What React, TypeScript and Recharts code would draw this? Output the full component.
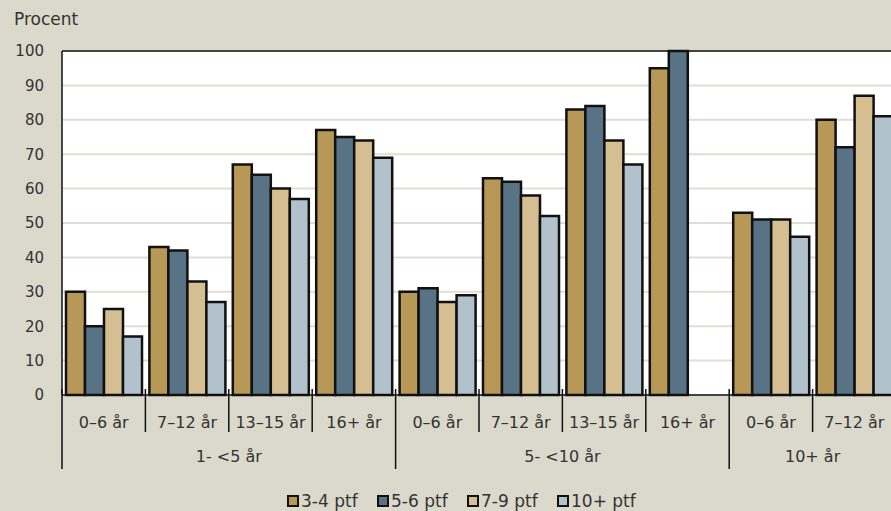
import { BarChart, Bar, XAxis, YAxis, CartesianGrid, ReferenceLine } from "recharts";

const subLabels = [
  "0–6 år", "7–12 år", "13–15 år", "16+ år",
  "0–6 år", "7–12 år", "13–15 år", "16+ år",
  "0–6 år", "7–12 år",
];
const groupLabels = [
  "1- <5 år", "1- <5 år", "1- <5 år", "1- <5 år",
  "5- <10 år", "5- <10 år", "5- <10 år", "5- <10 år",
  "10+ år", "10+ år",
];
const ptf34 = [30, 43, 67, 77, 30, 63, 83, 95, 53, 80];
const ptf56 = [20, 42, 64, 75, 31, 62, 84, 100, 51, 72];
const ptf79 = [25, 33, 60, 74, 27, 58, 74, null, 51, 87];
const ptf10 = [17, 27, 57, 69, 29, 52, 67, null, 46, 81];
const yTicks = [0, 10, 20, 30, 40, 50, 60, 70, 80, 90, 100];

const series = [
  { key: "p34", name: "3-4 ptf", color: "#b79856" },
  { key: "p56", name: "5-6 ptf", color: "#587386" },
  { key: "p79", name: "7-9 ptf", color: "#d5bf92" },
  { key: "p10", name: "10+ ptf", color: "#b2c2cc" },
];

const data = subLabels.map((sub, i) => ({
  sub,
  group: groupLabels[i],
  p34: ptf34[i],
  p56: ptf56[i],
  p79: ptf79[i],
  p10: ptf10[i],
}));

const FONT = "'DejaVu Sans', sans-serif";
const TEXT = "#333333";
const CHART_W = 900;
const Y_W = 62;
const MARGIN = { top: 51, right: 4, bottom: 36, left: 0 };
const band = (CHART_W - Y_W - MARGIN.left - MARGIN.right) / data.length;

interface TickProps {
  x?: number;
  y?: number;
  payload?: { value: string; index: number };
}

function TwoLevelTick({ x, y, payload }: TickProps) {
  if (x == null || y == null || !payload) return null;
  const i = payload.index;
  const d = data[i];
  const left = x - band / 2;
  const groupStart = i === 0 || data[i - 1].group !== d.group;
  let last = i;
  while (last + 1 < data.length && data[last + 1].group === d.group) last++;
  const groupCenter = x + ((last - i) * band) / 2;
  return (
    <g>
      <line x1={left} x2={left} y1={y - 6} y2={y + (groupStart ? 74 : 37)} stroke="#111" strokeWidth={1.5} />
      {i === data.length - 1 && (
        <line x1={x + band / 2} x2={x + band / 2} y1={y - 6} y2={y + 74} stroke="#111" strokeWidth={1.5} />
      )}
      <text x={x} y={y + 27} textAnchor="middle" dominantBaseline="central" fill={TEXT} fontSize={16} fontFamily={FONT}>
        {d.sub}
      </text>
      {groupStart && (
        <text x={groupCenter} y={y + 61} textAnchor="middle" dominantBaseline="central" fill={TEXT} fontSize={16} fontFamily={FONT}>
          {d.group}
        </text>
      )}
    </g>
  );
}

export default function App() {
  return (
    <div
      style={{
        position: "absolute",
        left: 0,
        top: 0,
        width: 891,
        height: 511,
        overflow: "hidden",
        background: "#dbd8cc",
        fontFamily: FONT,
      }}
    >
      <div style={{ position: "absolute", left: 14, top: 9, fontSize: 17, color: TEXT }}>Procent</div>
      <BarChart
        width={CHART_W}
        height={511}
        data={data}
        margin={MARGIN}
        barCategoryGap={4}
        barGap={0}
      >
        <CartesianGrid horizontal vertical={false} fill="#ffffff" stroke="#e1ddd2" strokeWidth={2} />
        <XAxis
          dataKey="sub"
          height={80}
          interval={0}
          tickLine={false}
          tickSize={0}
          tickMargin={0}
          axisLine={{ stroke: "#111", strokeWidth: 1.5 }}
          tick={<TwoLevelTick />}
        />
        <YAxis
          width={Y_W}
          domain={[0, 100]}
          ticks={yTicks}
          interval={0}
          tickLine={false}
          tickSize={6}
          tickMargin={12}
          axisLine={{ stroke: "#111", strokeWidth: 1.5 }}
          tick={{ fill: TEXT, fontSize: 15, fontFamily: FONT }}
        />
        <ReferenceLine y={100} stroke="#111" strokeWidth={1.5} />
        {series.map((s) => (
          <Bar
            key={s.key}
            dataKey={s.key}
            name={s.name}
            fill={s.color}
            stroke="#111"
            strokeWidth={2.5}
            isAnimationActive={false}
          />
        ))}
      </BarChart>
      <div
        style={{
          position: "absolute",
          left: 287,
          top: 491,
          display: "flex",
          fontSize: 17,
          color: TEXT,
          lineHeight: "20px",
        }}
      >
        {series.map((s) => (
          <div key={s.key} style={{ display: "flex", alignItems: "center", width: 90 }}>
            <span
              style={{
                display: "inline-block",
                width: 8,
                height: 8,
                background: s.color,
                border: "2px solid #111",
                marginRight: 2,
              }}
            />
            {s.name}
          </div>
        ))}
      </div>
    </div>
  );
}
